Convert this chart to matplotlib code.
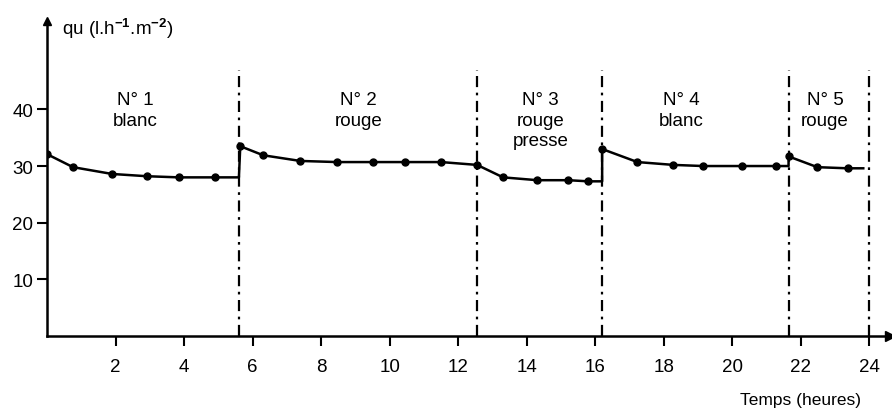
import matplotlib.pyplot as plt

plt.rcParams['font.family'] = ['Liberation Sans', 'DejaVu Sans']
plt.rcParams['mathtext.fontset'] = 'custom'
plt.rcParams['mathtext.rm'] = 'Liberation Sans'
plt.rcParams['mathtext.bf'] = 'Liberation Sans:bold'

# measured flux per lot (time in hours, qu in l.h-1.m-2)
t1 = [0, 0.76, 1.9, 2.92, 3.85, 4.9]
q1 = [32.1, 29.8, 28.6, 28.2, 28.0, 28.0]
t2 = [5.64, 6.31, 7.39, 8.47, 9.52, 10.45, 11.5, 12.55]
q2 = [33.5, 31.9, 30.9, 30.7, 30.7, 30.7, 30.7, 30.2]
t3 = [13.31, 14.31, 15.21, 15.8]
q3 = [28.0, 27.5, 27.5, 27.3]
t4 = [16.2, 17.23, 18.28, 19.15, 20.29, 21.26]
q4 = [33.0, 30.7, 30.2, 30.0, 30.0, 30.0]
t5 = [21.64, 22.48, 23.36]
q5 = [31.7, 29.8, 29.6]

lot_end = [5.6, 12.55, 16.2, 21.64, 23.82]   # where each run stops
changes = [5.6, 12.55, 16.2, 21.64, 24.0]     # change of load (dash-dot lines)
lot_labels = ['N° 1\nblanc', 'N° 2\nrouge', 'N° 3\nrouge\npresse',
              'N° 4\nblanc', 'N° 5\nrouge']
label_x = [2.57, 9.08, 14.4, 18.5, 22.7]

xticks = [2, 4, 6, 8, 10, 12, 14, 16, 18, 20, 22, 24]
yticks = [10, 20, 30, 40]

fig = plt.figure(figsize=(8.92, 4.14), dpi=100)
ax = fig.add_axes([47 / 892, 77 / 414, 843 / 892, 315 / 414])
ax.set_xlim(0, 24.6)
ax.set_ylim(0, 55.6)

# one continuous trace, flat to the end of each run
line_t, line_q = [], []
runs = [(t1, q1), (t2, q2), (t3, q3), (t4, q4), (t5, q5)]
for (t, q), end in zip(runs, lot_end):
    line_t += t
    line_q += q
    if end > t[-1]:
        line_t.append(end)
        line_q.append(q[-1])
ax.plot(line_t, line_q, color='black', lw=1.8, zorder=3)
for t, q in runs:
    ax.plot(t, q, 'o', color='black', ms=5, zorder=4)

for c in changes:
    ax.plot([c, c], [0, 47], color='black', lw=1.6,
            dashes=(5, 2.5, 1.2, 2.5), zorder=2)

for x, lab in zip(label_x, lot_labels):
    ax.text(x, 43.3, lab, ha='center', va='top', fontsize=13.5,
            linespacing=1.3)

for side in ['top', 'right']:
    ax.spines[side].set_visible(False)
for side in ['left', 'bottom']:
    ax.spines[side].set_linewidth(1.8)

ax.plot(1, 0, '>k', ms=7, transform=ax.get_yaxis_transform(), clip_on=False)
ax.plot(0, 1, '^k', ms=6, transform=ax.get_xaxis_transform(), clip_on=False)

ax.set_xticks(xticks)
ax.set_yticks(yticks)
ax.tick_params(axis='x', direction='out', length=7, width=1.5, pad=9,
               labelsize=13.5)
ax.tick_params(axis='y', direction='out', length=7, width=1.5, pad=3,
               labelsize=13.5)

ax.text(0.018, 0.98, r'qu (l.h$^{\mathbf{-1}}$.m$^{\mathbf{-2}}$)',
        transform=ax.transAxes, fontsize=13.5, va='center', ha='left')
fig.text(800 / 892, 13 / 414, 'Temps (heures)', ha='center', va='center',
         fontsize=12.5)

fig.savefig('out.png', dpi=100)
